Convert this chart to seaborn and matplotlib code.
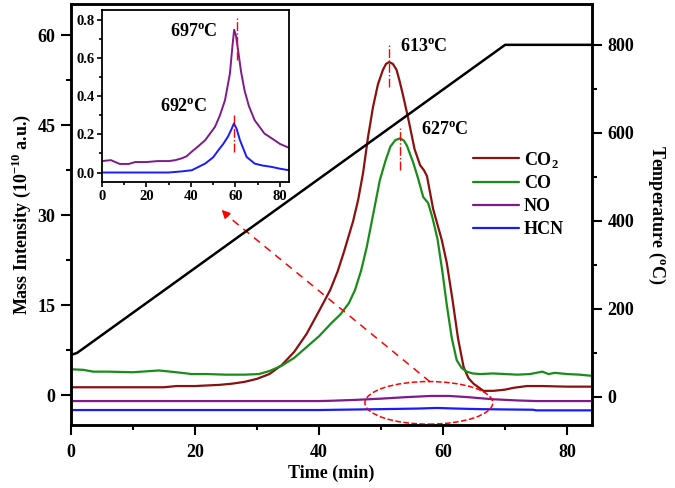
import seaborn as sns
import matplotlib
matplotlib.use("Agg")
import matplotlib.pyplot as plt
from matplotlib.patches import Ellipse
from matplotlib.ticker import MultipleLocator

# main panel data
co2_t = [0, 5, 10, 15, 17, 20, 22, 24, 26, 28, 30, 32, 34, 36, 38, 40, 41.8, 43, 44, 45.5, 46.3, 47.1, 47.9,
         48.7, 49.5, 50.3, 50.8, 51.3, 51.9, 52.5, 53.0, 53.6, 54.4, 55.4, 56.3, 56.9, 57.4, 58.4, 59.8,
         60.6, 61.5, 62.4, 63.3, 64.1, 64.9, 66.5, 68.1, 70, 71.3, 73.5, 76, 80, 84]
co2_v = [1.3, 1.3, 1.3, 1.3, 1.5, 1.5, 1.6, 1.7, 1.9, 2.2, 2.7, 3.5, 5.0, 7.2, 10.2, 14.0, 17.5, 20.6, 23.8,
         29.0, 32.5, 37.0, 43.0, 48.0, 51.8, 54.2, 55.2, 55.5, 55.2, 54.2, 52.3, 49.7, 46.0, 41.0, 38.3,
         37.5, 36.5, 31.0, 25.8, 22.0, 16.0, 9.5, 4.7, 2.8, 1.9, 0.7, 0.7, 0.9, 1.2, 1.5, 1.5, 1.4, 1.4]

co_t = [0, 2, 3.6, 6, 10, 14.2, 17, 19.5, 22, 24.9, 28.1, 30.3, 32, 34, 36, 38, 40, 42, 43.5, 44.8, 45.8,
        46.8, 47.7, 48.8, 49.8, 50.7, 51.5, 52.3, 53.1, 53.7, 54.2, 55.2, 56.0, 56.8, 57.6, 58.3, 59.1,
        59.9, 60.6, 61.4, 62.2, 63.0, 63.8, 64.8, 66, 68, 70, 72, 74, 76, 77, 78, 80, 82, 84]
co_v = [4.3, 4.2, 3.9, 3.9, 3.8, 4.1, 3.8, 3.5, 3.5, 3.4, 3.4, 3.5, 4.0, 4.9, 6.2, 8.0, 9.8, 12.0, 13.5,
        15.3, 17.5, 20.8, 24.7, 30.5, 35.8, 39.0, 41.4, 42.5, 42.8, 42.4, 41.5, 38.7, 36.0, 33.0, 32.0,
        29.5, 26.0, 20.5, 15.0, 9.5, 5.8, 4.5, 3.9, 3.6, 3.5, 3.6, 3.5, 3.4, 3.5, 3.9, 3.5, 3.7, 3.5,
        3.4, 3.2]

no_t = [0, 20, 40, 42, 46, 50, 54, 58, 61, 64, 68, 72, 75, 84]
no_v = [-1.0, -1.0, -1.0, -0.95, -0.8, -0.6, -0.35, -0.15, -0.15, -0.35, -0.7, -0.9, -1.0, -1.0]

hcn_t = [0, 20, 40, 43, 50, 56, 59, 62, 66, 70, 74.5, 75, 84]
hcn_v = [-2.5, -2.5, -2.5, -2.45, -2.35, -2.25, -2.15, -2.25, -2.35, -2.4, -2.45, -2.55, -2.55]

temp_t = [0, 1, 2, 70, 84]
temp_v = [95, 100, 110, 800, 800]

# inset data
ino_t = [0, 4, 8, 12, 15, 20, 25, 30, 33, 36, 38, 40.4, 43, 46.4, 50.8, 53, 55.3, 57.5, 58.6, 59.4, 60.2,
         61.2, 62.5, 64.1, 66, 68.6, 73, 77.5, 80, 84]
ino_v = [0.06, 0.065, 0.045, 0.045, 0.055, 0.055, 0.06, 0.06, 0.065, 0.075, 0.085, 0.11, 0.135, 0.17,
         0.24, 0.3, 0.38, 0.52, 0.66, 0.75, 0.72, 0.64, 0.53, 0.43, 0.35, 0.275, 0.205, 0.17, 0.15, 0.13]

ihcn_t = [0, 10, 20, 30, 33, 36, 40.4, 46.4, 50, 52.3, 54.5, 56.7, 58.3, 59.3, 60.5, 62, 65, 68.6, 72, 76,
          80, 84]
ihcn_v = [0.0, 0.0, 0.0, 0.0, 0.003, 0.006, 0.012, 0.047, 0.08, 0.117, 0.15, 0.19, 0.23, 0.258, 0.23,
          0.17, 0.082, 0.047, 0.037, 0.03, 0.02, 0.012]

c_co2 = "#8b1010"
c_co = "#1a8c1a"
c_no = "#7f1a8c"
c_hcn = "#1a1aff"

sns.set_style("ticks")
plt.rcParams["font.family"] = ["Liberation Serif", "DejaVu Serif"]
plt.rcParams["font.weight"] = "bold"
plt.rcParams["axes.labelweight"] = "bold"
plt.rcParams["mathtext.fontset"] = "custom"
plt.rcParams["mathtext.rm"] = "Liberation Serif:bold"
plt.rcParams["mathtext.bf"] = "Liberation Serif:bold"
plt.rcParams["axes.edgecolor"] = "black"
plt.rcParams["xtick.color"] = "black"
plt.rcParams["ytick.color"] = "black"
plt.rcParams["text.color"] = "black"
plt.rcParams["axes.labelcolor"] = "black"

fig = plt.figure(figsize=(6.75, 4.88), dpi=100)
ax = fig.add_axes([0.105, 0.129, 0.772, 0.863])
ax2 = ax.twinx()

lw = 1.6
sns.lineplot(x=co2_t, y=co2_v, ax=ax, color=c_co2, lw=lw, label=r"CO$_\mathbf{2}$")
sns.lineplot(x=co_t, y=co_v, ax=ax, color=c_co, lw=lw, label="CO")
sns.lineplot(x=no_t, y=no_v, ax=ax, color=c_no, lw=lw, label="NO")
sns.lineplot(x=hcn_t, y=hcn_v, ax=ax, color=c_hcn, lw=lw, label="HCN")
sns.lineplot(x=temp_t, y=temp_v, ax=ax2, color="black", lw=1.8, legend=False)

ax.set_xlim(0, 84)
ax.set_ylim(-5, 65.2)
ax2.set_ylim(-64, 893)
ax.xaxis.set_major_locator(MultipleLocator(20))
ax.xaxis.set_minor_locator(MultipleLocator(10))
ax.yaxis.set_major_locator(MultipleLocator(15))
ax.yaxis.set_minor_locator(MultipleLocator(7.5))
ax2.yaxis.set_major_locator(MultipleLocator(200))
ax2.yaxis.set_minor_locator(MultipleLocator(100))
for a in (ax, ax2):
    a.tick_params(which="major", length=7, width=1.5, labelsize=13, direction="out", pad=4)
    a.tick_params(which="minor", length=3.5, width=1.5, direction="out")
    for s in a.spines.values():
        s.set_visible(True)
        s.set_linewidth(1.8)
        s.set_color("black")
ax.tick_params(axis="x", which="major", pad=7)

ax.set_xlabel("Time (min)", fontsize=13, fontweight="bold", labelpad=2)
ax.set_ylabel(r"Mass Intensity (10$^{\mathbf{-10}}$ a.u.)", fontsize=13, fontweight="bold", labelpad=3)
ax2.set_ylabel(r"Temperature ($^{\mathbf{o}}$C)", fontsize=13, fontweight="bold", rotation=270, labelpad=24)

ax.legend(loc="upper left", bbox_to_anchor=(0.688, 0.712), bbox_transform=fig.transFigure,
          frameon=False, fontsize=13, handlelength=2.5, handletextpad=0.3, labelspacing=0.32,
          borderpad=0)

# peak markers
ax.plot([51.3, 51.3], [51.3, 58.3], color="red", ls="-.", lw=1.0)
ax.plot([53.1, 53.1], [37.5, 44.5], color="red", ls="-.", lw=1.0)
ax.text(53.0, 58.0, r"613$^{\mathbf{o}}$C", fontsize=13, fontweight="bold", va="center", ha="left")
ax.text(56.4, 44.2, r"627$^{\mathbf{o}}$C", fontsize=13, fontweight="bold", va="center", ha="left")

# zoom ellipse + arrow
ax.add_patch(Ellipse((57.7, -1.3), 20.6, 7.1, fill=False, ls="--", color="red", lw=1.1, zorder=5))
ax.plot([57.9, 25.2], [2.2, 29.9], color="red", ls=(0, (5, 4)), lw=1.1, zorder=5)
ax.annotate("", xy=(24.0, 31.2), xytext=(25.6, 29.5),
            arrowprops=dict(arrowstyle="-|>", color="red", lw=1.1, mutation_scale=12), zorder=5)

# inset
ins = fig.add_axes([0.151, 0.627, 0.277, 0.353])
sns.lineplot(x=ino_t, y=ino_v, ax=ins, color=c_no, lw=1.4)
sns.lineplot(x=ihcn_t, y=ihcn_v, ax=ins, color=c_hcn, lw=1.4)
ins.set_xlim(0, 84)
ins.set_ylim(-0.05, 0.855)
ins.xaxis.set_major_locator(MultipleLocator(20))
ins.xaxis.set_minor_locator(MultipleLocator(10))
ins.yaxis.set_major_locator(MultipleLocator(0.2))
ins.yaxis.set_minor_locator(MultipleLocator(0.1))
ins.tick_params(which="major", length=3.5, width=1.2, labelsize=10.5, pad=2)
ins.tick_params(which="minor", length=2, width=1.2)
for s in ins.spines.values():
    s.set_visible(True)
    s.set_linewidth(1.3)
    s.set_color("black")
ins.plot([60.5, 60.5], [0.59, 0.82], color="red", ls="-.", lw=1.0)
ins.plot([59.5, 59.5], [0.11, 0.30], color="red", ls="-.", lw=1.0)
ins.text(30.5, 0.734, r"697$^{\mathbf{o}}$C", fontsize=13, fontweight="bold", va="center", ha="left")
ins.text(26.0, 0.34, r"692$^{\mathbf{o}}$C", fontsize=13, fontweight="bold", va="center", ha="left")

fig.savefig("out.png", dpi=100)
